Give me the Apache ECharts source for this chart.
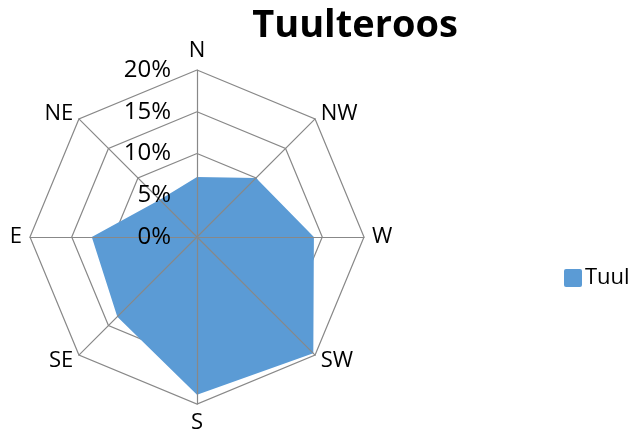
<!DOCTYPE html>
<html><head><meta charset="utf-8">
<script src="https://cdn.jsdelivr.net/npm/echarts@6/dist/echarts.min.js"></script>
<style>html,body{margin:0;padding:0;background:#fff}#c{width:637px;height:439px}</style>
</head><body><div id="c"></div>
<script>
const directions = ['N', 'NE', 'E', 'SE', 'S', 'SW', 'W', 'NW'];
const tuul = [7.2, 6.3, 12.6, 13.5, 18.9, 19.7, 14.0, 10.0];
const seriesName = 'Tuul';
const title = 'Tuulteroos';
const maxValue = 20;
const tickStep = 5;

const font = 'Open Sans, Noto Sans, sans-serif';
const gridColor = '#888888';
const indicators = directions.map(d => ({ name: d, min: 0, max: maxValue }));
const chart = echarts.init(document.getElementById('c'));
chart.setOption({
  animation: false,
  title: { text: title, left: 350, top: 2, textAlign: 'center',
    textStyle: { fontFamily: font, fontWeight: 'bold', fontSize: 38, color: '#000' } },
  legend: { data: [seriesName], left: 564, top: 267, padding: 0, itemWidth: 18, itemHeight: 18, itemGap: 5,
    icon: 'path://M2,0 H16 Q18,0 18,2 V16 Q18,18 16,18 H2 Q0,18 0,16 V2 Q0,0 2,0 Z',
    textStyle: { fontFamily: font, fontSize: 22, color: '#000', padding: [0, 0, 0, -2] } },
  radar: [{
    center: [197, 237], radius: 167, startAngle: 90, shape: 'polygon', splitNumber: 4,
    indicator: indicators,
    axisName: { color: '#000', fontFamily: font, fontSize: 22 },
    nameGap: 8,
    axisLine: { show: false },
    splitLine: { lineStyle: { color: gridColor, width: 1.2 } },
    splitArea: { show: false }
  }, {
    center: [197, 237], radius: 167, startAngle: 90, shape: 'polygon', splitNumber: 4, z: 5,
    indicator: indicators,
    axisName: { show: false },
    axisLine: { lineStyle: { color: gridColor, width: 1.2 } },
    splitLine: { show: false },
    splitArea: { show: false }
  }],
  polar: { center: [197, 237], radius: 167 },
  angleAxis: { show: false, startAngle: 90 },
  radiusAxis: { min: 0, max: maxValue, interval: tickStep, axisLine: { show: false }, axisTick: { show: false },
    splitLine: { show: false }, z: 10,
    axisLabel: { formatter: '{value}%', fontFamily: font, fontSize: 24, color: '#000', margin: 26 } },
  series: [{
    type: 'radar', name: seriesName, symbol: 'none', radarIndex: 0,
    lineStyle: { width: 0 },
    areaStyle: { color: '#5B9BD5', opacity: 1 },
    itemStyle: { color: '#5B9BD5' },
    data: [{ value: tuul, name: seriesName }]
  }]
});
</script></body></html>
